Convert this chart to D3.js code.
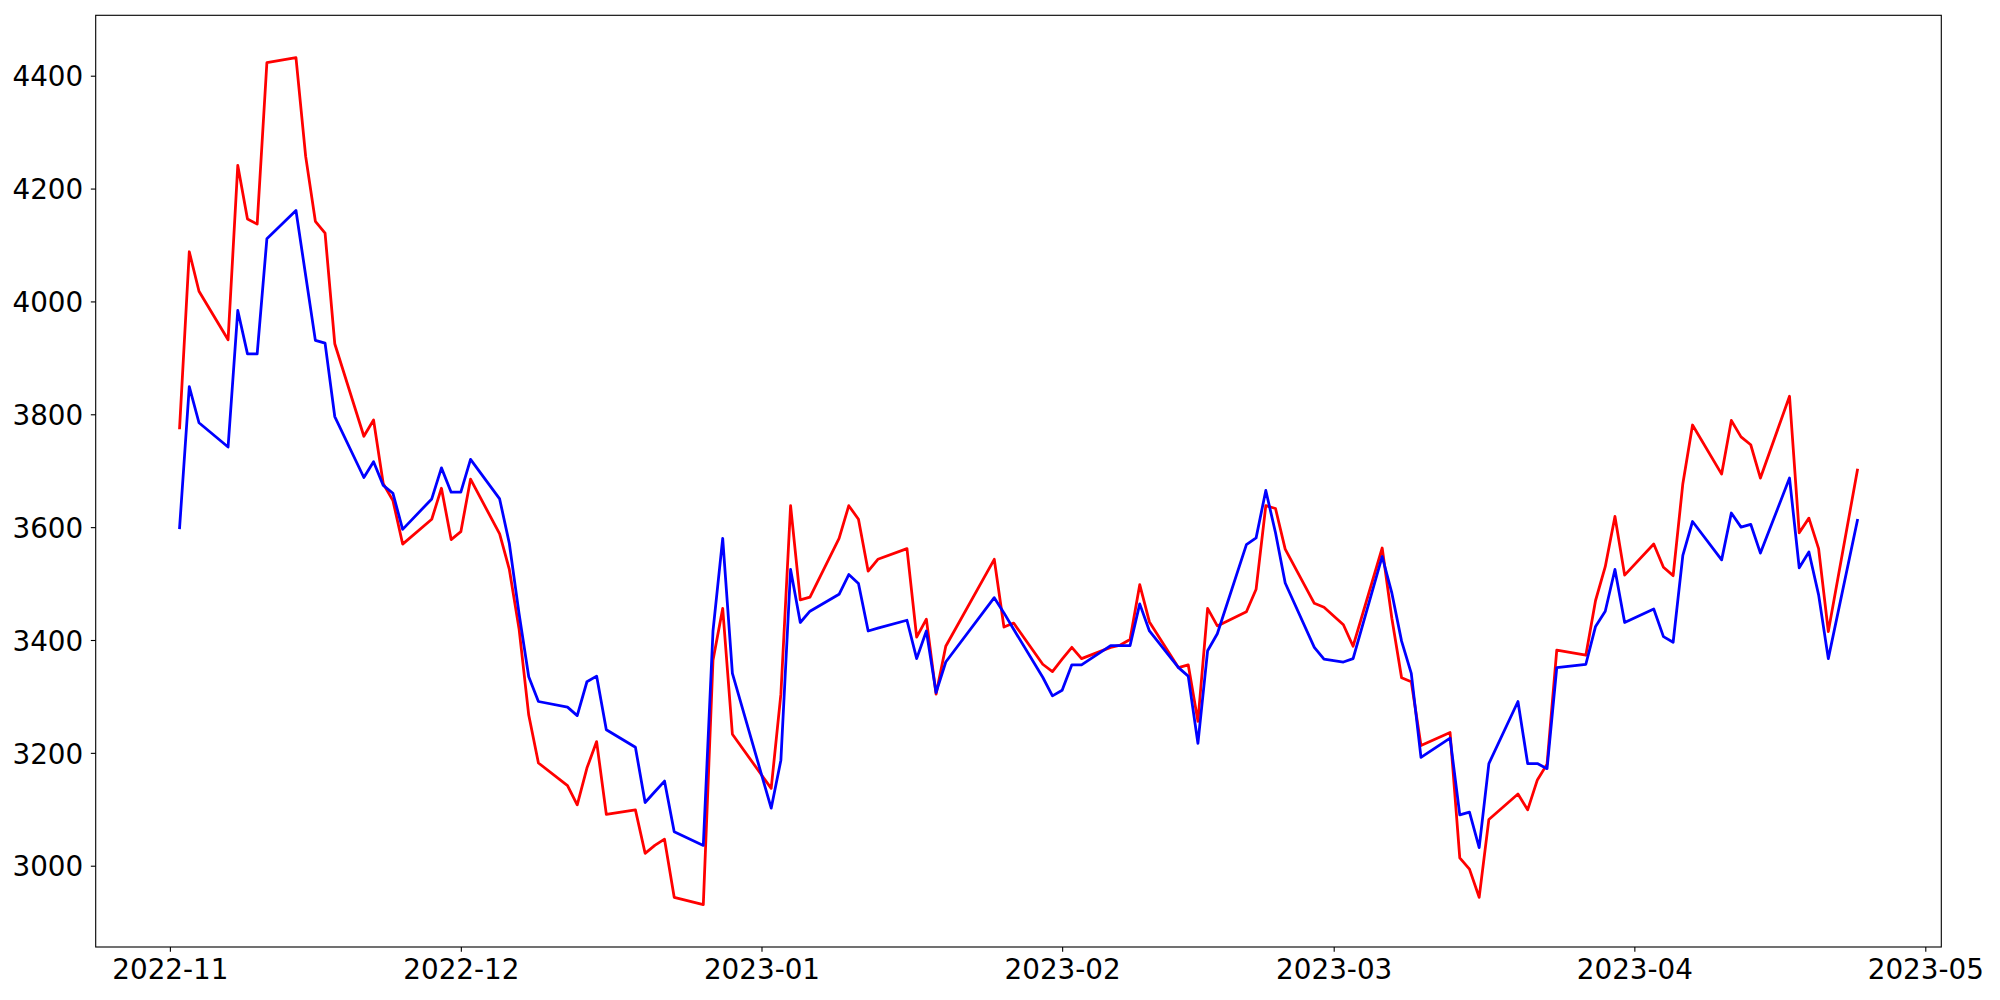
<!DOCTYPE html>
<html><head><meta charset="utf-8">
<script src="https://cdn.jsdelivr.net/npm/d3@7"></script>
<style>html,body{margin:0;padding:0;background:#fff;} svg{display:block;}</style>
</head><body>
<svg id="chart" width="2000" height="1000"></svg>
<script>
// Trading dates
const dates = [
"2022-11-02","2022-11-03","2022-11-04","2022-11-07","2022-11-08","2022-11-09","2022-11-10","2022-11-11","2022-11-14","2022-11-15","2022-11-16","2022-11-17","2022-11-18","2022-11-21","2022-11-22","2022-11-23","2022-11-24","2022-11-25","2022-11-28","2022-11-29","2022-11-30",
"2022-12-01","2022-12-02","2022-12-05","2022-12-06","2022-12-07","2022-12-08","2022-12-09","2022-12-12","2022-12-13","2022-12-14","2022-12-15","2022-12-16","2022-12-19","2022-12-20","2022-12-21","2022-12-22","2022-12-23","2022-12-26","2022-12-27","2022-12-28","2022-12-29",
"2023-01-02","2023-01-03","2023-01-04","2023-01-05","2023-01-06","2023-01-09","2023-01-10","2023-01-11","2023-01-12","2023-01-13","2023-01-16","2023-01-17","2023-01-18","2023-01-19","2023-01-20","2023-01-25","2023-01-26","2023-01-27","2023-01-30","2023-01-31",
"2023-02-01","2023-02-02","2023-02-03","2023-02-06","2023-02-07","2023-02-08","2023-02-09","2023-02-10","2023-02-13","2023-02-14","2023-02-15","2023-02-16","2023-02-17","2023-02-20","2023-02-21","2023-02-22","2023-02-23","2023-02-24","2023-02-27","2023-02-28",
"2023-03-02","2023-03-03","2023-03-06","2023-03-07","2023-03-08","2023-03-09","2023-03-10","2023-03-13","2023-03-14","2023-03-15","2023-03-16","2023-03-17","2023-03-20","2023-03-21","2023-03-22","2023-03-23","2023-03-24","2023-03-27","2023-03-28","2023-03-29","2023-03-30","2023-03-31",
"2023-04-03","2023-04-04","2023-04-05","2023-04-06","2023-04-07","2023-04-10","2023-04-11","2023-04-12","2023-04-13","2023-04-14","2023-04-17","2023-04-18","2023-04-19","2023-04-20","2023-04-21","2023-04-24"
];

// Red series
const redValues = [
3776,4088,4018,3932,4241,4146,4137,4423,4432,4257,4142,4121,3925,3761,3790,3677,3647,3570,3614,3669,3578,
3592,3685,3588,3525,3420,3267,3182,3142,3108,3173,3220,3091,3099,3022,3036,3047,2944,2931,3364,3456,3233,
3137,3304,3638,3471,3476,3580,3638,3614,3522,3543,3562,3405,3437,3304,3389,3543,3423,3430,3357,3344,
3366,3387,3367,3387,3391,3401,3498,3432,3351,3356,3256,3456,3425,3450,3490,3638,3633,3561,3465,3458,
3427,3389,3563,3438,3333,3326,3213,3236,3014,2994,2944,3082,3127,3099,3152,3180,3382,3373,3470,3530,3619,3515,
3570,3529,3514,3677,3781,3694,3789,3760,3746,3687,3832,3590,3616,3562,3415,3701
];

// Blue series
const blueValues = [
3599,3849,3785,3742,3984,3907,3907,4111,4161,4046,3931,3926,3796,3688,3716,3674,3660,3596,3650,3705,3662,
3662,3720,3650,3571,3447,3335,3291,3281,3266,3326,3336,3241,3210,3112,3131,3150,3060,3036,3416,3580,3341,
3102,3187,3525,3431,3451,3481,3516,3500,3416,3421,3435,3367,3416,3307,3361,3475,3448,3419,3334,3301,
3311,3356,3356,3390,3390,3390,3464,3416,3351,3336,3217,3381,3411,3569,3581,3665,3590,3501,3387,3366,
3361,3367,3548,3483,3398,3341,3192,3226,3090,3095,3032,3181,3291,3181,3181,3172,3351,3357,3424,3451,3525,3431,
3455,3406,3396,3550,3610,3542,3625,3600,3605,3554,3687,3528,3556,3480,3367,3612
];

const yTicks = [3000,3200,3400,3600,3800,4000,4200,4400];
const xTickFormat = "%Y-%m";

const W = 2000, H = 1000;
const L = 95.7, R = 1941.3, T = 15.3, B = 947;

const parse = d3.utcParse("%Y-%m-%d");
const pts = dates.map(parse);
const redData = pts.map((d,i)=>({date:d, v:redValues[i]}));
const blueData = pts.map((d,i)=>({date:d, v:blueValues[i]}));

const [x0, x1] = d3.extent(pts);
const xm = (x1 - x0) * 0.05;
const x = d3.scaleUtc().domain([new Date(+x0 - xm), new Date(+x1 + xm)]).range([L, R]);

const allV = redValues.concat(blueValues);
const [y0, y1] = d3.extent(allV);
const ym = (y1 - y0) * 0.05;
const y = d3.scaleLinear().domain([y0 - ym, y1 + ym]).range([B, T]);

const svg = d3.select("#chart");
svg.append("rect").attr("width", W).attr("height", H).attr("fill", "#fff");

const font = "'DejaVu Sans', sans-serif";
const fs = 27.8;
const tickLen = 4.86;
const sw = 1.11;

// X axis
const xAxis = d3.axisBottom(x)
  .ticks(d3.utcMonth.every(1))
  .tickFormat(d3.utcFormat(xTickFormat))
  .tickSize(tickLen).tickSizeOuter(0);
const gx = svg.append("g").attr("transform", `translate(0,${B})`).call(xAxis);
gx.select(".domain").remove();
gx.selectAll(".tick line").attr("stroke", "#000").attr("stroke-width", sw);
gx.selectAll(".tick text").attr("fill", "#000").attr("font-family", font).attr("font-size", fs)
  .attr("y", 31.5).attr("dy", null);

// Y axis
const yAxis = d3.axisLeft(y).tickValues(yTicks).tickFormat(d3.format("d"))
  .tickSize(tickLen).tickSizeOuter(0);
const gy = svg.append("g").attr("transform", `translate(${L},0)`).call(yAxis);
gy.select(".domain").remove();
gy.selectAll(".tick line").attr("stroke", "#000").attr("stroke-width", sw);
gy.selectAll(".tick text").attr("fill", "#000").attr("font-family", font).attr("font-size", fs)
  .attr("x", -12.5).attr("dy", "0.365em");

// Lines
const line = d3.line().x(d => x(d.date)).y(d => y(d.v));
svg.append("path").datum(redData).attr("d", line)
  .attr("fill", "none").attr("stroke", "#ff0000").attr("stroke-width", 2.78)
  .attr("stroke-linejoin", "round").attr("stroke-linecap", "square");
svg.append("path").datum(blueData).attr("d", line)
  .attr("fill", "none").attr("stroke", "#0000ff").attr("stroke-width", 2.78)
  .attr("stroke-linejoin", "round").attr("stroke-linecap", "square");

// Frame (spines)
svg.append("rect").attr("x", L).attr("y", T).attr("width", R - L).attr("height", B - T)
  .attr("fill", "none").attr("stroke", "#000").attr("stroke-width", sw);
</script>
</body></html>
